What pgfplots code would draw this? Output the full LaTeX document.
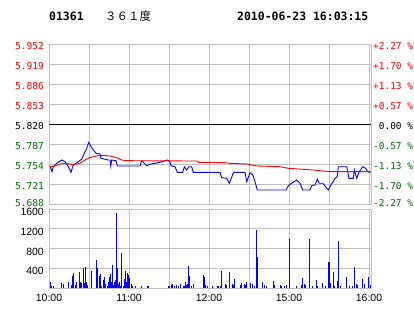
\documentclass[border=0pt]{standalone}
\usepackage{fontspec}
\setmainfont{DejaVu Sans Mono}
\newfontfamily\sansf{Liberation Sans}
\newfontfamily\cjk{Noto Sans CJK SC}
\usepackage{pgfplots}
\pgfplotsset{compat=1.18}
\definecolor{grn}{RGB}{0,110,0}
\definecolor{gridgray}{RGB}{192,192,192}
\begin{document}
\begin{tikzpicture}[x=1bp,y=1bp]
\path[use as bounding box] (0,0) rectangle (414,314);
\node[anchor=west, inner sep=0pt, font=\bfseries\fontsize{11.5}{13}\selectfont] at (49,298) {01361};
\node[anchor=west, inner sep=0pt, font=\cjk\fontsize{11.5}{13}\selectfont] at (105,298) {３６１度};
\node[anchor=west, inner sep=0pt, font=\bfseries\fontsize{11.5}{13}\selectfont] at (237,298) {2010-06-23 16:03:15};

% price panel
\begin{axis}[at={(49bp,110bp)}, anchor=south west, scale only axis,
  width=322bp, height=160bp,
  xmin=0, xmax=241.5, ymin=5.688, ymax=5.952,
  xtick={0,30,...,240}, xticklabels={},
  ytick={5.688,5.721,5.754,5.787,5.853,5.886,5.919,5.952},
  yticklabels={{\color{grn}\raisebox{7bp}{5.688}},{\color{grn}5.721},{\color{grn}5.754},{\color{grn}5.787},{\color{red}5.853},{\color{red}5.886},{\color{red}5.919},{\color{red}5.952}},
  extra y ticks={5.82}, extra y tick labels={5.820},
  extra y tick style={grid style={black, line width=0.9bp}},
  grid=major, grid style={gridgray, line width=0.9bp},
  axis line style={gridgray, line width=0.9bp},
  tick style={draw=none},
  yticklabel style={font=\fontsize{9.6}{10}\selectfont, anchor=east, inner sep=0pt, xshift=-5bp, yshift=-2bp},
  clip=true]
\addplot[blue, line width=0.9bp, mark=none] coordinates {
(0.75,5.7507) (2.25,5.7413) (3.2,5.7495) (5.8,5.7552) (9.5,5.7606) (12,5.7578) (14.5,5.7495) (16.5,5.7403) (18.2,5.7523) (20.25,5.7552) (22,5.7578) (24.5,5.7618) (26.5,5.7717) (28.3,5.7799) (29.8,5.7898) (31.3,5.7837) (33.2,5.7771) (35.25,5.7717) (38.25,5.7705) (39,5.7634) (44.5,5.7606) (45.75,5.7606) (46.3,5.7507) (47,5.7606) (50.25,5.7595) (51.2,5.7507) (68.25,5.7507) (69.5,5.7595) (73.3,5.7512) (75.75,5.7535) (83.25,5.7568) (89,5.7606) (90.75,5.7578) (91.5,5.7512) (94.5,5.7495) (96.2,5.7403) (100.3,5.7403) (101.5,5.7495) (103.3,5.7441) (105,5.7495) (107,5.7495) (108.2,5.7403) (128.25,5.7403) (129.5,5.7314) (133.3,5.7304) (135.2,5.7222) (138.2,5.7387) (139,5.7403) (147,5.7403) (148.3,5.7248) (150.75,5.7396) (152.8,5.7358) (154.5,5.7248) (156.2,5.7111) (177.75,5.7111) (179.5,5.7182) (182,5.7222) (185.8,5.7276) (188.25,5.7222) (190.3,5.7111) (195.75,5.7111) (197,5.7182) (199.5,5.7193) (201.2,5.7288) (202.7,5.7222) (205.3,5.7222) (209.5,5.7111) (211.3,5.7193) (213.2,5.7248) (214.5,5.7304) (216.2,5.7330) (217,5.7495) (223.3,5.7495) (225,5.7304) (228.2,5.7304) (229,5.7441) (230.8,5.7304) (232.7,5.7413) (235.3,5.7495) (237.5,5.7469) (239,5.7413) (241.3,5.7403)
};
\addplot[red, line width=0.9bp, mark=none] coordinates {
(0.75,5.7495) (4.5,5.7507) (8.25,5.754) (13.3,5.7552) (18.2,5.7523) (23.25,5.7552) (27,5.7606) (30.2,5.7644) (35.8,5.7672) (39.5,5.7684) (45.75,5.7672) (50.8,5.7644) (54.5,5.7606) (58.3,5.7595) (110.8,5.7589) (112,5.7568) (133.3,5.7561) (134.5,5.7552) (148.3,5.754) (155.8,5.7507) (173.25,5.7495) (179.5,5.7469) (198.2,5.7441) (210.75,5.7413) (241.3,5.7413)
};
\draw[black, line width=0.9bp] (rel axis cs:0,0) -- (rel axis cs:1,0);
\end{axis}

% right percentage axis
\begin{axis}[at={(49bp,110bp)}, anchor=south west, scale only axis,
  width=322bp, height=160bp,
  xmin=0, xmax=241.5, ymin=-2.268, ymax=2.268,
  axis x line=none, axis y line*=right,
  axis line style={draw=none},
  tick style={draw=none},
  ytick={-2.268,-1.701,-1.134,-0.567,0,0.567,1.134,1.701,2.268},
  yticklabels={{\color{grn}\raisebox{7bp}{-2.27 \%}},{\color{grn}-1.70 \%},{\color{grn}-1.13 \%},{\color{grn}-0.57 \%},{\phantom{-}0.00 \%},{\color{red}+0.57 \%},{\color{red}+1.13 \%},{\color{red}+1.70 \%},{\color{red}+2.27 \%}},
  yticklabel style={font=\fontsize{9.5}{10}\selectfont, anchor=west, inner sep=0pt, xshift=2bp, yshift=-2bp}]
\end{axis}

% volume panel
\begin{axis}[at={(49bp,26bp)}, anchor=south west, scale only axis,
  width=322bp, height=79bp,
  xmin=0, xmax=241.5, ymin=0, ymax=1600,
  xtick={0,60,120,180,240}, xticklabels={10:00,11:00,12:00,15:00,16:00},
  minor xtick={30,90,150,210},
  ytick={0,400,800,1200,1600}, yticklabels={,400,800,1200,1600},
  grid=both, grid style={gridgray, line width=0.9bp}, minor grid style={gridgray, line width=0.9bp},
  axis line style={gridgray, line width=0.9bp},
  tick style={draw=none}, minor tick length=0pt,
  yticklabel style={font=\sansf\fontsize{10.5}{11}\selectfont, anchor=east, inner sep=0pt, xshift=-5bp, yshift=-3bp},
  xticklabel style={font=\sansf\fontsize{10.5}{11}\selectfont, anchor=north, inner sep=0pt, yshift=-6bp}]
\addplot[blue, ycomb, line width=1bp, mark=none] coordinates {
(0.75,120) (2,47) (3,47) (9.25,100) (10.75,87) (14.25,120) (16.75,67) (17.5,248) (18.25,300) (19.75,67) (20.5,120) (22.75,322) (23.5,114) (24.25,94) (25.75,402) (26.5,100) (27.25,429) (28,120) (28.75,67) (31.75,348) (35.5,570) (36.25,402) (37.75,248) (38.5,288) (39.25,47) (40.75,168) (41.5,228) (42.25,87) (43.75,47) (44.5,120) (45.25,221) (46,288) (46.75,120) (47.5,469) (48.25,67) (49,120) (49.75,168) (50.5,1528) (51.25,402) (52,87) (52.75,120) (53.5,47) (54.25,704) (55.75,47) (56.5,188) (57.25,348) (58,120) (58.75,300) (59.5,268) (60.25,200) (61.75,87) (62.5,47) (64.75,47) (69.25,47) (73.75,47) (74.5,47) (89.5,47) (90.25,47) (91.75,67) (92.5,87) (94,47) (95.5,67) (97,47) (98.5,87) (100.75,47) (101.5,47) (102.25,120) (103,67) (103.75,87) (104.5,449) (105.25,235) (106.75,47) (108.25,87) (115.75,268) (116.5,214) (117.25,67) (118.75,47) (122.5,47) (126.25,47) (127,47) (128.5,47) (129.25,348) (132.25,87) (133,67) (135.25,322) (137.5,87) (138.25,67) (139,188) (143.5,67) (144.25,107) (146.5,87) (147.25,67) (148,120) (151,107) (152.5,87) (154,47) (155.5,1173) (156.25,630) (160,120) (161.5,67) (163,47) (168.25,147) (169,67) (173.5,67) (174.25,47) (176.5,47) (178,67) (180,992) (185.25,47) (189,67) (189.75,201) (191.25,87) (192,67) (195,992) (197.25,47) (200.25,161) (201,47) (204.75,107) (207,47) (209.25,523) (210,523) (210.75,107) (213,322) (213.75,47) (216,147) (216.75,951) (218.25,47) (222.75,214) (225,47) (227.25,47) (228.75,429) (230.25,87) (231,67) (234.75,188) (236.25,87) (239.25,214) (240.75,67)
};
\draw[black, line width=0.9bp] (rel axis cs:0,0) -- (rel axis cs:1,0);
\end{axis}
\end{tikzpicture}
\end{document}
